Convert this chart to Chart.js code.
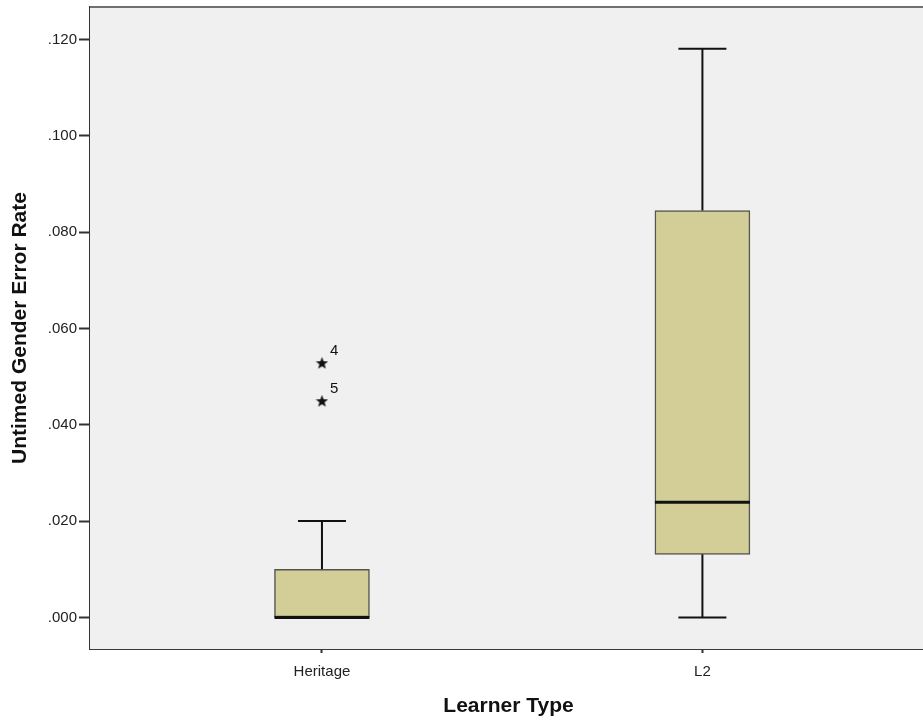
<!DOCTYPE html>
<html>
<head>
<meta charset="utf-8">
<script src="https://cdn.jsdelivr.net/npm/chart.js@4/dist/chart.umd.min.js"></script>
<style>
  html, body { margin: 0; padding: 0; background: #ffffff; overflow: hidden; }
  #wrap { position: relative; width: 934px; height: 721px; }
</style>
</head>
<body>
<div id="wrap"><canvas id="chart"></canvas></div>
<script>
// Learner groups and their box-plot statistics
const categories   = ['Heritage', 'L2'];
const whiskerLow   = [0.000, 0.000];
const quartile1    = [0.000, 0.0131];
const medians      = [0.000, 0.0239];
const quartile3    = [0.0100, 0.0845];
const whiskerHigh  = [0.0200, 0.1181];

// Extreme cases (starred), with the case numbers shown beside them
const outlierGroup = [0, 0];
const outlierValue = [0.0529, 0.0450];
const outlierCase  = ['4', '5'];

const yTickValues  = [0.000, 0.020, 0.040, 0.060, 0.080, 0.100, 0.120];

const FONT = "'Liberation Sans', Arial, sans-serif";

// Filled five-point star used as the marker for extreme cases
function makeStar(size, color) {
  const c = document.createElement('canvas');
  c.width = size; c.height = size;
  const g = c.getContext('2d');
  const cx = size / 2, cy = size / 2 + 0.7;
  const ro = size / 2, ri = ro * 0.42;
  g.beginPath();
  for (let k = 0; k < 10; k++) {
    const r = k % 2 === 0 ? ro : ri;
    const a = -Math.PI / 2 + k * Math.PI / 5;
    const px = cx + r * Math.cos(a), py = cy + r * Math.sin(a);
    if (k === 0) g.moveTo(px, py); else g.lineTo(px, py);
  }
  g.closePath();
  g.fillStyle = color;
  g.fill();
  return c;
}

const boxData = categories.map((c, i) => ({ x: i + 1, y: [quartile1[i], quartile3[i]] }));
const outlierData = outlierValue.map((v, k) => ({ x: outlierGroup[k] + 1, y: v }));

// Plot background and frame
const plotFrame = {
  id: 'plotFrame',
  beforeDatasetsDraw(chart) {
    const { ctx, chartArea: a } = chart;
    ctx.save();
    ctx.fillStyle = '#f0f0f0';
    ctx.fillRect(a.left, a.top, a.right - a.left, a.bottom - a.top);
    ctx.restore();
  },
  afterDraw(chart) {
    const { ctx, chartArea: a } = chart;
    ctx.save();
    ctx.strokeStyle = '#707070';
    ctx.lineWidth = 2;
    ctx.beginPath();
    ctx.moveTo(a.left, a.top);
    ctx.lineTo(a.right, a.top);
    ctx.stroke();
    ctx.restore();
  }
};

// Whiskers, caps and median lines drawn on the chart's scales
const whiskers = {
  id: 'whiskers',
  afterDatasetsDraw(chart) {
    const { ctx } = chart;
    const xs = chart.scales.x, ys = chart.scales.y;
    const boxHalf = 47.5, capHalf = 24;
    ctx.save();
    ctx.strokeStyle = '#111111';
    ctx.lineCap = 'butt';
    categories.forEach((c, i) => {
      const px = xs.getPixelForValue(i + 1);
      ctx.lineWidth = 2;
      ctx.beginPath();
      if (whiskerHigh[i] > quartile3[i]) {
        ctx.moveTo(px, ys.getPixelForValue(quartile3[i]));
        ctx.lineTo(px, ys.getPixelForValue(whiskerHigh[i]));
        ctx.moveTo(px - capHalf, ys.getPixelForValue(whiskerHigh[i]));
        ctx.lineTo(px + capHalf, ys.getPixelForValue(whiskerHigh[i]));
      }
      if (whiskerLow[i] < quartile1[i]) {
        ctx.moveTo(px, ys.getPixelForValue(quartile1[i]));
        ctx.lineTo(px, ys.getPixelForValue(whiskerLow[i]));
        ctx.moveTo(px - capHalf, ys.getPixelForValue(whiskerLow[i]));
        ctx.lineTo(px + capHalf, ys.getPixelForValue(whiskerLow[i]));
      }
      ctx.stroke();
      ctx.lineWidth = 3;
      ctx.beginPath();
      const my = ys.getPixelForValue(medians[i]);
      ctx.moveTo(px - boxHalf, my);
      ctx.lineTo(px + boxHalf, my);
      ctx.stroke();
    });
    // case numbers beside the starred points
    ctx.fillStyle = '#111111';
    ctx.font = '15px ' + FONT;
    ctx.textAlign = 'left';
    ctx.textBaseline = 'middle';
    outlierValue.forEach((v, k) => {
      const px = xs.getPixelForValue(outlierGroup[k] + 1);
      const py = ys.getPixelForValue(v);
      ctx.fillText(outlierCase[k], px + 8, py - 12);
    });
    ctx.restore();
  }
};

new Chart(document.getElementById('chart'), {
  type: 'bar',
  data: {
    datasets: [
      {
        type: 'bar',
        data: boxData,
        backgroundColor: '#d3ce98',
        borderColor: '#55554c',
        borderWidth: 1.5,
        borderSkipped: false,
        barThickness: 95,
        order: 2
      },
      {
        type: 'scatter',
        data: outlierData,
        pointStyle: makeStar(13, '#111111'),
        pointRadius: 6,
        order: 1
      }
    ]
  },
  options: {
    responsive: true,
    maintainAspectRatio: false,
    animation: false,
    events: [],
    layout: { padding: { top: 3.5, right: 1, left: 0, bottom: 0 } },
    plugins: { legend: { display: false }, tooltip: { enabled: false } },
    scales: {
      x: {
        type: 'linear',
        min: 0.3903,
        max: 2.5903,
        offset: false,
        afterBuildTicks(scale) { scale.ticks = categories.map((c, i) => ({ value: i + 1 })); },
        afterFit(scale) {
          scale.height = 72;
          scale.paddingLeft = 0;
          scale.paddingRight = 0;
        },
        ticks: {
          callback: (v) => categories[Math.round(v) - 1] || '',
          font: { family: FONT, size: 15 },
          color: '#222222',
          padding: 10,
          autoSkip: false,
          maxRotation: 0
        },
        grid: { offset: false, drawOnChartArea: false, drawTicks: true, tickLength: 4, tickColor: '#333333', tickWidth: 2 },
        border: { display: true, color: '#3a3a3a', width: 2 },
        title: {
          display: true,
          text: 'Learner Type',
          font: { family: FONT, size: 21, weight: 'bold' },
          color: '#111111',
          padding: { top: 0, bottom: 2 }
        }
      },
      y: {
        type: 'linear',
        min: -0.00656,
        max: 0.12677,
        afterBuildTicks(scale) { scale.ticks = yTickValues.map(v => ({ value: v })); },
        afterFit(scale) {
          scale.width = 90;
          scale.paddingTop = 0;
          scale.paddingBottom = 0;
        },
        ticks: {
          callback: (v) => v.toFixed(3).replace(/^0/, ''),
          font: { family: FONT, size: 15 },
          color: '#222222',
          padding: 2
        },
        grid: { drawOnChartArea: false, drawTicks: true, tickLength: 11, tickColor: '#333333', tickWidth: 2 },
        border: { display: true, color: '#333333', width: 2 },
        title: {
          display: true,
          text: 'Untimed Gender Error Rate',
          font: { family: FONT, size: 21, weight: 'bold' },
          color: '#111111',
          padding: { top: 8, bottom: 0 }
        }
      }
    }
  },
  plugins: [plotFrame, whiskers]
});
</script>
</body>
</html>
